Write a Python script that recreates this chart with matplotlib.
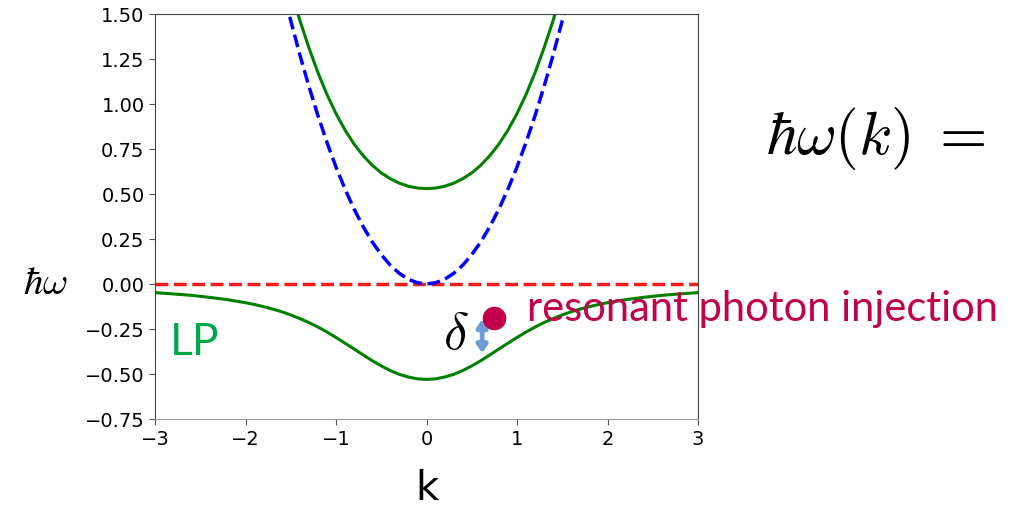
import matplotlib
matplotlib.use("Agg")
import matplotlib.pyplot as plt

# values (momentum k, energy hbar*omega)
K_LOWER = [-3.0, -2.8, -2.6, -2.4, -2.2,
           -2.0, -1.9, -1.8, -1.7, -1.6, -1.5, -1.4, -1.3, -1.2, -1.1,
           -1.0, -0.9, -0.8, -0.7, -0.6, -0.5, -0.4, -0.3, -0.2, -0.1,
           0.0, 0.1, 0.2, 0.3, 0.4, 0.5, 0.6, 0.7, 0.8, 0.9,
           1.0, 1.1, 1.2, 1.3, 1.4, 1.5, 1.6, 1.7, 1.8, 1.9, 2.0,
           2.2, 2.4, 2.6, 2.8, 3.0]
E_LOWER = [-0.048, -0.055, -0.063, -0.074, -0.087,
           -0.104, -0.114, -0.126, -0.139, -0.154, -0.172, -0.192, -0.214, -0.239, -0.267,
           -0.297, -0.329, -0.361, -0.394, -0.426, -0.455, -0.481, -0.502, -0.517, -0.527,
           -0.530, -0.527, -0.517, -0.502, -0.481, -0.455, -0.426, -0.394, -0.361, -0.329,
           -0.297, -0.267, -0.239, -0.214, -0.192, -0.172, -0.154, -0.139, -0.126, -0.114, -0.104,
           -0.087, -0.074, -0.063, -0.055, -0.048]

K_UPPER = [-1.7, -1.6, -1.5, -1.4, -1.3, -1.2, -1.1, -1.0, -0.9, -0.8, -0.7, -0.6,
           -0.5, -0.4, -0.3, -0.2, -0.1, 0.0, 0.1, 0.2, 0.3, 0.4, 0.5,
           0.6, 0.7, 0.8, 0.9, 1.0, 1.1, 1.2, 1.3, 1.4, 1.5, 1.6, 1.7]
E_UPPER = [2.018, 1.818, 1.634, 1.466, 1.313, 1.175, 1.053, 0.947, 0.855, 0.777, 0.713, 0.660,
           0.617, 0.585, 0.560, 0.543, 0.533, 0.530, 0.533, 0.543, 0.560, 0.585, 0.617,
           0.660, 0.713, 0.777, 0.855, 0.947, 1.053, 1.175, 1.313, 1.466, 1.634, 1.818, 2.018]
E_PHOTON = [1.879, 1.664, 1.463, 1.274, 1.099, 0.936, 0.787, 0.650, 0.527, 0.416, 0.319, 0.234,
            0.163, 0.104, 0.059, 0.026, 0.007, 0.000, 0.007, 0.026, 0.059, 0.104, 0.163,
            0.234, 0.319, 0.416, 0.527, 0.650, 0.787, 0.936, 1.099, 1.274, 1.463, 1.664, 1.879]

K_EXCITON = [-3.0, 3.0]
E_EXCITON = [0.0, 0.0]

INJECTION_K = [0.75]
INJECTION_E = [-0.19]

X_TICKS = [-3, -2, -1, 0, 1, 2, 3]
Y_TICKS = [-0.75, -0.50, -0.25, 0.00, 0.25, 0.50, 0.75, 1.00, 1.25, 1.50]

CRIMSON = "#C3004A"

plt.rcParams["mathtext.fontset"] = "cm"

W, H = 1009, 510
fig = plt.figure(figsize=(W / 100, H / 100), dpi=100)
ax = fig.add_axes([155 / W, 1 - 420 / H, (698 - 155) / W, (420 - 15) / H])

ax.plot(K_EXCITON, E_EXCITON, "--", color="#ee1c1c", lw=2.5)
ax.plot(K_UPPER, E_PHOTON, "--", color="#0000ff", lw=2.5)
ax.plot(K_UPPER, E_UPPER, color="green", lw=2.2)
ax.plot(K_LOWER, E_LOWER, color="green", lw=2.2)

ax.set_xlim(-3, 3)
ax.set_ylim(-0.75, 1.5)
ax.set_xticks(X_TICKS)
ax.set_yticks(Y_TICKS)
ax.set_yticklabels([f"{v:.2f}".replace("-", "\u2212") for v in Y_TICKS])
ax.tick_params(labelsize=14, length=4, color="#555555")
for side in ["left", "right", "top"]:
    ax.spines[side].set_color("#444444")
ax.spines["bottom"].set_color("#9a9a9a")

# detuning arrow and injection point
ax.annotate("", xy=(0.615, -0.18), xytext=(0.615, -0.40),
            arrowprops=dict(arrowstyle="<|-|>,head_length=0.45,head_width=0.3",
                            color="#6f9bd6", lw=3.5), annotation_clip=False)
ax.plot(INJECTION_K, INJECTION_E, "o", color=CRIMSON, markersize=16, clip_on=False, zorder=5)

fig.text(456 / W, 1 - 334 / H, r"$\delta$", fontsize=38, ha="center", va="center")
fig.text(527 / W, 1 - 321 / H, "resonant photon injection", fontsize=30,
         family="Lato", color=CRIMSON, va="baseline")
fig.text(170 / W, 1 - 355 / H, "LP", fontsize=32, family="Lato", color="#00A84A", va="baseline")
fig.text(45 / W, 1 - 283 / H, r"$\hbar\omega$", fontsize=28, ha="center", va="center")
fig.text(766 / W, 1 - 139 / H, r"$\hbar\omega(k)\;=$", fontsize=44, ha="left", va="center")
fig.text(427 / W, 1 - 500 / H, "k", fontsize=29, ha="center", va="baseline")

fig.savefig("out.png", dpi=100, facecolor="white")
